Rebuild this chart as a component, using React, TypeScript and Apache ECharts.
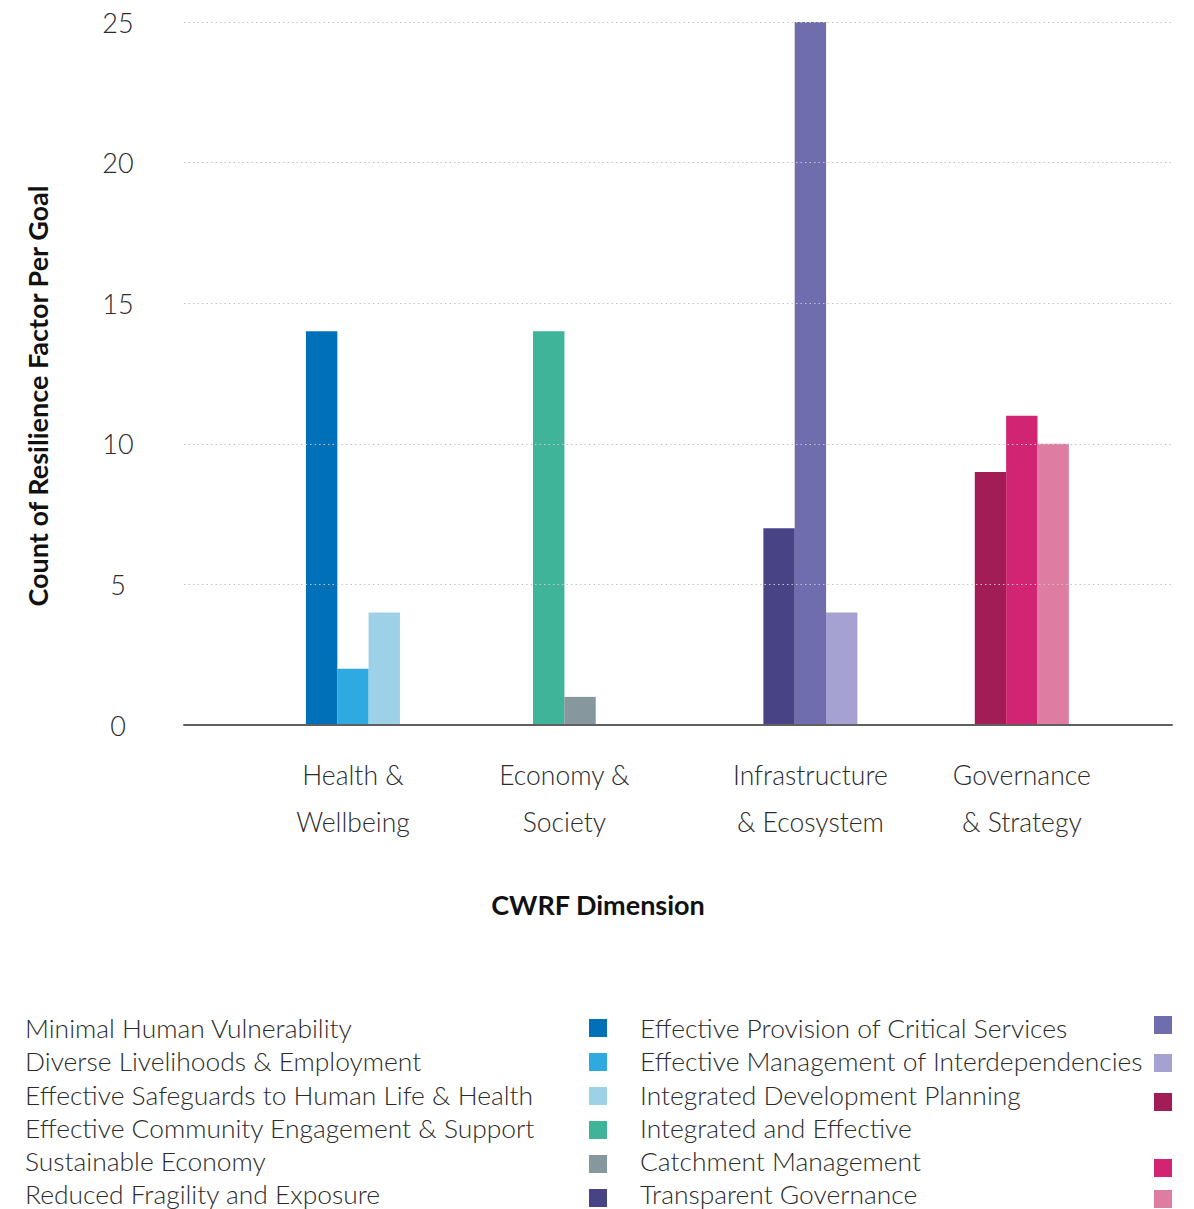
import React, { useEffect, useRef } from "react";
import * as echarts from "echarts";

// ---- Data ----
const categories = [
  "Health &\nWellbeing",
  "Economy &\nSociety",
  "Infrastructure\n& Ecosystem",
  "Governance\n& Strategy",
];
// positions of each dimension on the 0–100 horizontal scale
const categoryCenters = [17.1, 38.5, 63.4, 84.8];

const goalNames = [
  "Minimal Human Vulnerability",
  "Diverse Livelihoods & Employment",
  "Effective Safeguards to Human Life & Health",
  "Effective Community Engagement & Support",
  "Sustainable Economy",
  "Reduced Fragility and Exposure",
  "Effective Provision of Critical Services",
  "Effective Management of Interdependencies",
  "Integrated Development Planning",
  "Integrated and Effective\nCatchment Management",
  "Transparent Governance",
];
const goalCategory = [0, 0, 0, 1, 1, 2, 2, 2, 3, 3, 3];
const goalValues = [14, 2, 4, 14, 1, 7, 25, 4, 9, 11, 10];
const goalColors = [
  "#0070B8",
  "#2EAAE1",
  "#9DD1E8",
  "#3FB498",
  "#87979E",
  "#484384",
  "#6F6DAE",
  "#A5A1D0",
  "#A21C56",
  "#D12573",
  "#DF7CA2",
];
const yTicks = [0, 5, 10, 15, 20, 25];

// ---- Layout constants ----
const W = 1194;
const H = 1209;
const BAR_STEP = 3.17; // bar spacing in x-axis units
const FONT = "Lato, 'Open Sans', sans-serif";

export default function App() {
  const ref = useRef<HTMLDivElement>(null);

  useEffect(() => {
    if (!ref.current) return;
    const chart = echarts.init(ref.current, undefined, { renderer: "svg", width: W, height: H });

    const series = goalNames.map((name, i) => {
      const cat = goalCategory[i];
      const members = goalCategory
        .map((c, j) => (c === cat ? j : -1))
        .filter((j) => j >= 0);
      const k = members.indexOf(i);
      const x = categoryCenters[cat] + (k - (members.length - 1) / 2) * BAR_STEP;
      return {
        name: name.replace("\n", " "),
        type: "bar",
        barWidth: 31.4,
        barGap: "-100%",
        itemStyle: { color: goalColors[i] },
        data: [[x, goalValues[i]]],
      };
    });

    // Legend as graphic elements (text left, swatch right)
    const legendGraphics: any[] = [];
    const rowStart = 1028;
    const rowStep = 33.3;
    const leftSquareTops = [1019, 1053, 1087, 1121, 1155, 1189];
    const rightSquareTops = [1016, 1054, 1093, 1159, 1190];
    let rightRow = 0;
    goalNames.forEach((name, i) => {
      const isLeft = i < 6;
      const row = isLeft ? i : rightRow;
      const lines = name.split("\n").length;
      if (!isLeft) rightRow += lines;
      legendGraphics.push({
        type: "text",
        x: isLeft ? 25 : 640,
        y: rowStart + row * rowStep - rowStep / 2,
        style: {
          text: name,
          fontFamily: FONT,
          fontWeight: 300,
          fontSize: 26.4,
          lineHeight: rowStep,
          fill: "#2b2b2b",
          align: "left",
          verticalAlign: "top",
        },
      });
      legendGraphics.push({
        type: "rect",
        shape: {
          x: isLeft ? 589 : 1154,
          y: isLeft ? leftSquareTops[i] : rightSquareTops[i - 6],
          width: 18,
          height: 18,
        },
        style: { fill: goalColors[i] },
      });
    });

    const option: any = {
      animation: false,
      backgroundColor: "#ffffff",
      textStyle: { fontFamily: FONT },
      grid: { left: 184, right: 22, top: 22, bottom: 484, containLabel: false },
      xAxis: {
        type: "value",
        min: 0,
        max: 100,
        z: 3,
        splitLine: { show: false },
        axisTick: { show: false },
        axisLine: { show: true, lineStyle: { color: "#5f5f5f", width: 2 } },
        axisLabel: {
          customValues: categoryCenters,
          formatter: (v: number) => {
            const idx = categoryCenters.findIndex((c) => Math.abs(c - v) < 1e-6);
            return idx >= 0 ? categories[idx] : "";
          },
          margin: 26,
          fontFamily: FONT,
          fontWeight: 300,
          fontSize: 26.5,
          lineHeight: 47,
          color: "#2b2b2b",
          align: "center",
        },
      },
      yAxis: {
        type: "value",
        min: 0,
        max: 25,
        interval: 5,
        z: 3,
        axisLine: { show: false },
        axisTick: { show: false },
        splitLine: { show: true, lineStyle: { color: "#c4c4c4", type: [1.5, 3], width: 1 } },
        axisLabel: {
          margin: 66,
          align: "center",
          fontFamily: FONT,
          fontWeight: 300,
          fontSize: 27,
          color: "#2b2b2b",
          formatter: (v: number) => (yTicks.includes(v) ? String(v) : ""),
        },
      },
      graphic: [
        {
          type: "text",
          x: 37,
          y: 396,
          rotation: Math.PI / 2,
          style: {
            text: "Count of Resilience Factor Per Goal",
            fontFamily: FONT,
            fontWeight: 700,
            fontSize: 27,
            fill: "#111",
            align: "center",
            verticalAlign: "middle",
          },
        },
        {
          type: "text",
          x: 598,
          y: 904,
          style: {
            text: "CWRF Dimension",
            fontFamily: FONT,
            fontWeight: 700,
            fontSize: 27,
            fill: "#111",
            align: "center",
            verticalAlign: "middle",
          },
        },
        ...legendGraphics,
      ],
      series,
    };

    chart.setOption(option);
    return () => chart.dispose();
  }, []);

  return (
    <div
      ref={ref}
      style={{ position: "fixed", left: 0, top: 0, width: W, height: H, background: "#fff" }}
    />
  );
}
